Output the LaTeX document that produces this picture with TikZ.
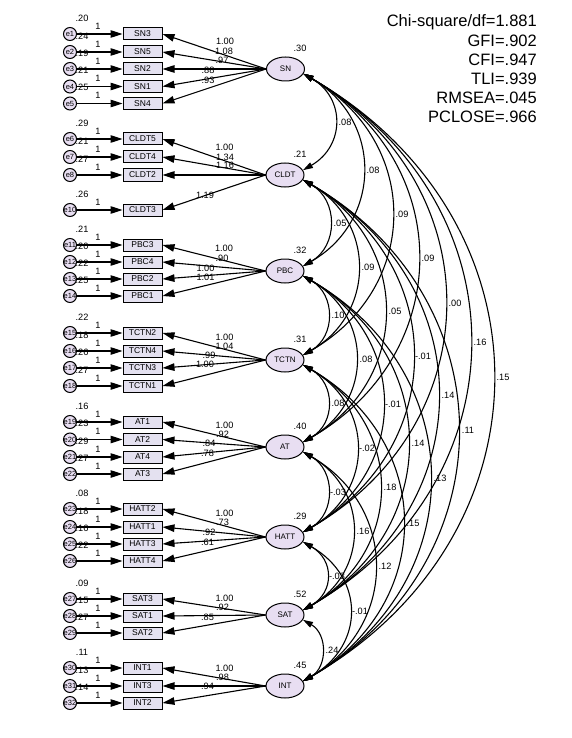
\documentclass[tikz,border=0pt]{standalone}
\usepackage{fontspec}
\setmainfont{Liberation Sans}
\usetikzlibrary{arrows.meta,shapes.geometric}
\definecolor{latfill}{RGB}{232,222,242}
\definecolor{obsfill}{RGB}{228,225,240}
\newcommand\ind[4]{%
  \node[err] (#1) at (70,#3) {\makebox[0pt]{#1}};
  \node[obs] (#2) at (142.5,#3) {#2};
  \draw[arr] (#1) -- (#2);
  \node[lbl] (#1one) at (98,#3-8) {1};
  \node[lbl] (#1var) at (82,#3-16) {#4};
}
\newcommand\load[5]{%
  \draw[arr] (#1.west) -- (#2.east);
  \node[lbl] (#2ld) at (#3,#4) {#5};
}
\newcommand\cov[5]{%
  \pgfmathsetmacro\cvs{#3-313.5}%
  \pgfmathsetmacro\cvdx{4*\cvs/3}%
  \pgfmathsetmacro\cvdy{0.77*\cvs}%
  \draw[covarr] (#1.-15) .. controls +(\cvdx,\cvdy) and +(\cvdx,-\cvdy) .. (#2.15);
  \node[lbl] (c#1#2) at (#3,#4) {#5};
}
\begin{document}
\begin{tikzpicture}[x=1pt,y=-1pt,
  lat/.style={ellipse,draw,line width=1pt,fill=latfill,minimum width=38pt,minimum height=24pt,inner sep=0pt,font=\fontsize{8}{9}\selectfont},
  obs/.style={rectangle,draw,line width=1pt,fill=obsfill,minimum width=39pt,minimum height=12pt,inner sep=0pt,font=\fontsize{8.5}{9}\selectfont},
  err/.style={circle,draw,line width=1pt,fill=latfill,minimum size=13pt,inner sep=0pt,font=\fontsize{7.5}{8}\selectfont},
  lbl/.style={font=\fontsize{9.2}{10}\selectfont,inner sep=0pt},
  fit/.style={font=\fontsize{16.5}{19}\selectfont,inner sep=0pt,anchor=base east},
  arr/.style={line width=1.1pt,-{Triangle[length=12pt,width=7.5pt]}},
  covarr/.style={line width=1.1pt,{Triangle[length=10pt,width=6pt]}-{Triangle[length=10pt,width=6pt]}}]
\useasboundingbox (0,0) rectangle (571,738);
% latent factors
\node[lat] (SN) at (285.5,69) {SN};
\node[lat] (CLDT) at (285,175) {CLDT};
\node[lat] (PBC) at (285,271) {PBC};
\node[lat] (TCTN) at (285,360) {TCTN};
\node[lat] (AT) at (285,447) {AT};
\node[lat] (HATT) at (285,537) {HATT};
\node[lat] (SAT) at (285,615) {SAT};
\node[lat] (INT) at (285,686) {INT};
\node[lbl] (SNv) at (300,48) {.30};
\node[lbl] (CLDTv) at (300,154) {.21};
\node[lbl] (PBCv) at (300,250) {.32};
\node[lbl] (TCTNv) at (300,339) {.31};
\node[lbl] (ATv) at (300,426) {.40};
\node[lbl] (HATTv) at (300,516) {.29};
\node[lbl] (SATv) at (300,594) {.52};
\node[lbl] (INTv) at (300,665) {.45};
% indicators
\ind{e1}{SN3}{34}{.20}
\ind{e2}{SN5}{52}{.24}
\ind{e3}{SN2}{69}{.19}
\ind{e4}{SN1}{86.5}{.21}
\ind{e5}{SN4}{103.5}{.25}
\ind{e6}{CLDT5}{139}{.29}
\ind{e7}{CLDT4}{157}{.21}
\ind{e8}{CLDT2}{175}{.27}
\ind{e10}{CLDT3}{210}{.26}
\ind{e11}{PBC3}{245}{.21}
\ind{e12}{PBC4}{262}{.20}
\ind{e13}{PBC2}{279}{.22}
\ind{e14}{PBC1}{296}{.25}
\ind{e15}{TCTN2}{333}{.22}
\ind{e16}{TCTN4}{351}{.18}
\ind{e17}{TCTN3}{368}{.26}
\ind{e18}{TCTN1}{386}{.27}
\ind{e19}{AT1}{422}{.16}
\ind{e20}{AT2}{439.5}{.23}
\ind{e21}{AT4}{457}{.29}
\ind{e22}{AT3}{474}{.27}
\ind{e23}{HATT2}{509}{.08}
\ind{e24}{HATT1}{527}{.18}
\ind{e25}{HATT3}{544}{.16}
\ind{e26}{HATT4}{561}{.22}
\ind{e27}{SAT3}{599}{.09}
\ind{e28}{SAT1}{616}{.15}
\ind{e29}{SAT2}{633}{.27}
\ind{e30}{INT1}{668}{.11}
\ind{e31}{INT3}{686}{.13}
\ind{e32}{INT2}{703}{.14}
% loadings
\load{SN}{SN3}{225}{41.5}{1.00}
\load{SN}{SN5}{224}{51.5}{1.08}
\load{SN}{SN2}{222}{60}{.97}
\load{SN}{SN1}{208}{70}{.88}
\load{SN}{SN4}{208}{80}{.93}
\load{CLDT}{CLDT5}{224.5}{147}{1.00}
\load{CLDT}{CLDT4}{225}{157}{1.34}
\load{CLDT}{CLDT2}{225}{165.3}{1.16}
\load{CLDT}{CLDT3}{205}{195}{1.19}
\load{PBC}{PBC3}{224}{248.7}{1.00}
\load{PBC}{PBC4}{222}{258}{.90}
\load{PBC}{PBC2}{205.5}{268}{1.00}
\load{PBC}{PBC1}{205.5}{277}{1.01}
\load{TCTN}{TCTN2}{224.5}{337}{1.00}
\load{TCTN}{TCTN4}{224.5}{346.3}{1.04}
\load{TCTN}{TCTN3}{209}{355.3}{.99}
\load{TCTN}{TCTN1}{205}{364.7}{1.00}
\load{AT}{AT1}{224.5}{425}{1.00}
\load{AT}{AT2}{222.5}{434.5}{.92}
\load{AT}{AT4}{209}{443.8}{.84}
\load{AT}{AT3}{207.5}{453.8}{.78}
\load{HATT}{HATT2}{224.5}{513.8}{1.00}
\load{HATT}{HATT1}{222.5}{522.8}{.73}
\load{HATT}{HATT3}{209}{532.8}{.92}
\load{HATT}{HATT4}{207.5}{542.5}{.61}
\load{SAT}{SAT3}{224.5}{598}{1.00}
\load{SAT}{SAT1}{222.5}{607}{.92}
\load{SAT}{SAT2}{207.5}{617}{.85}
\load{INT}{INT1}{224.5}{668}{1.00}
\load{INT}{INT3}{222.5}{677.5}{.98}
\load{INT}{INT2}{207.5}{686}{.94}
% covariances
\cov{SN}{CLDT}{345}{122}{.08}
\cov{SN}{PBC}{373}{170}{.08}
\cov{SN}{TCTN}{402}{214.5}{.09}
\cov{SN}{AT}{428}{258}{.09}
\cov{SN}{HATT}{455}{303}{.00}
\cov{SN}{SAT}{480}{342}{.16}
\cov{SN}{INT}{503}{377.5}{.15}
\cov{CLDT}{PBC}{340}{223}{.05}
\cov{CLDT}{TCTN}{368}{267.5}{.09}
\cov{CLDT}{AT}{395}{311}{.05}
\cov{CLDT}{HATT}{423}{356}{-.01}
\cov{CLDT}{SAT}{448}{395}{.14}
\cov{CLDT}{INT}{468}{430.5}{.11}
\cov{PBC}{TCTN}{338}{315.5}{.10}
\cov{PBC}{AT}{366}{359}{.08}
\cov{PBC}{HATT}{393}{404}{-.01}
\cov{PBC}{SAT}{418}{443}{.14}
\cov{PBC}{INT}{440}{478.5}{.13}
\cov{TCTN}{AT}{338}{403.5}{.08}
\cov{TCTN}{HATT}{367}{448.5}{-.02}
\cov{TCTN}{SAT}{390}{487.5}{.18}
\cov{TCTN}{INT}{413}{523}{.15}
\cov{AT}{HATT}{338}{492}{-.03}
\cov{AT}{SAT}{363}{531}{.16}
\cov{AT}{INT}{385}{566.5}{.12}
\cov{HATT}{SAT}{337}{576}{-.03}
\cov{HATT}{INT}{360}{611.5}{-.01}
\cov{SAT}{INT}{332}{650.5}{.24}
% fit indices
\node[fit] (chi) at (537,27) {Chi-square/df=1.881};
\node[fit] (gfi) at (537,46.2) {GFI=.902};
\node[fit] (cfi) at (537,65.3) {CFI=.947};
\node[fit] (tli) at (537,84.4) {TLI=.939};
\node[fit] (rmsea) at (537,103.5) {RMSEA=.045};
\node[fit] (pclose) at (537,122.6) {PCLOSE=.966};
\end{tikzpicture}
\end{document}
